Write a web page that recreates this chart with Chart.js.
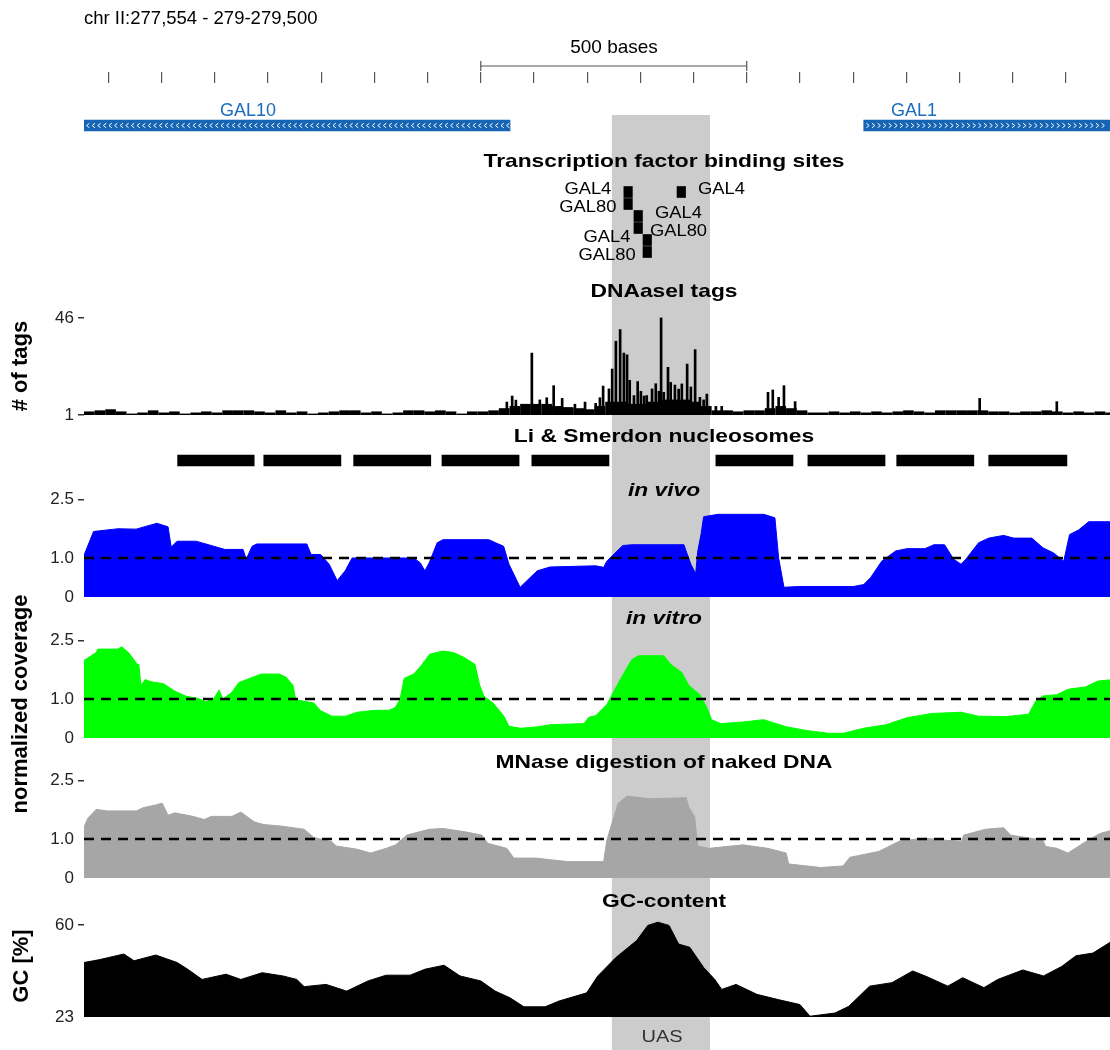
<!DOCTYPE html>
<html>
<head>
<meta charset="utf-8">
<script src="https://cdn.jsdelivr.net/npm/chart.js@4.4.1/dist/chart.umd.min.js"></script>
<style>
  body { margin: 0; background: #fff; font-family: "Liberation Sans", Arial, Helvetica, sans-serif; }
  #page { position: relative; width: 1110px; height: 1050px; overflow: hidden; background: #fff; }
  #page canvas { position: absolute; left: 0; }
  #text { position: absolute; left: 0; top: 0; width: 1110px; height: 1050px; z-index: 5; pointer-events: none; }
  .lbl { position: absolute; white-space: nowrap; line-height: 1; transform: translate(-50%, -50%); color: #000; }
  .ttl { font-weight: bold; font-size: 19px; transform: translate(-50%, -50%) scaleX(1.2); }
  .ax { font-weight: bold; font-size: 22px; transform: translate(-50%, -50%) rotate(-90deg); }
</style>
</head>
<body>
<div id="page">
  <div id="text">
    <div class="lbl" style="left:84px;top:18px;font-size:18.5px;transform:translate(0,-50%)">chr II:277,554 - 279-279,500</div>
    <div class="lbl" style="left:614px;top:46px;font-size:19px">500 bases</div>
    <div class="lbl" style="left:248px;top:110px;font-size:18px;color:#1a6cbf">GAL10</div>
    <div class="lbl" style="left:914px;top:110px;font-size:18px;color:#1a6cbf">GAL1</div>
    <div class="lbl ttl" style="left:664px;top:160px">Transcription factor binding sites</div>
    <div class="lbl ttl" style="left:664px;top:290px">DNAaseI tags</div>
    <div class="lbl ttl" style="left:664px;top:435px">Li &amp; Smerdon nucleosomes</div>
    <div class="lbl ttl" style="left:664px;top:489px;font-style:italic">in vivo</div>
    <div class="lbl ttl" style="left:664px;top:617px;font-style:italic">in vitro</div>
    <div class="lbl ttl" style="left:664px;top:761px">MNase digestion of naked DNA</div>
    <div class="lbl ttl" style="left:664px;top:900px">GC-content</div>
    <div class="lbl" style="left:662px;top:1037px;font-size:16px;color:#333;transform:translate(-50%,-50%) scaleX(1.25)">UAS</div>
    <div class="lbl ax" style="left:20px;top:366px"># of tags</div>
    <div class="lbl ax" style="left:20px;top:704px">normalized coverage</div>
    <div class="lbl ax" style="left:21px;top:966px">GC [%]</div>
  </div>
</div>
<script>
// window: chr II 277,554 onwards, positions below are bases from that start
const chrStart = 277554;
const viewLen = 1929;

const rulerTicks = [277600, 277700, 277800, 277900, 278000, 278100, 278200, 278300, 278400, 278500,
                    278600, 278700, 278800, 278900, 279000, 279100, 279200, 279300, 279400];
const scaleBar = [278300, 278800];

const geneNames = ['GAL10', 'GAL1'];
const geneFrom = [0, 1466];
const geneTo = [801, 1929];
const geneStrand = ['-', '+'];

const uasFrom = 992;
const uasTo = 1177;

const tfNames = ['GAL4', 'GAL80', 'GAL4', 'GAL80', 'GAL4', 'GAL80', 'GAL4'];
const tfFrom = [1015, 1015, 1034, 1034, 1051, 1051, 1115];
const tfTo   = [1031, 1031, 1050, 1050, 1067, 1067, 1131];
const tfRow  = [0, 1, 2, 3, 4, 5, 0];
const tfSide = ['left', 'left', 'right', 'right', 'left', 'left', 'right'];

// DNaseI: background tag counts in 20 bp bins + the tall single spikes
const dnaseBin = 20;
const dnaseBg = [
  2.5, 3, 3.5, 2.5, 1.5, 2, 3, 2, 2.5, 1.5,
  2, 2.5, 2, 3, 3, 3, 2.5, 2, 3, 2,
  2.5, 1.5, 2, 2.5, 3, 3, 2, 2.5, 1.5, 2,
  3, 3, 2.5, 3, 2.5, 1.5, 2.5, 2.5, 3, 4,
  5, 6, 6, 6, 5, 4.5, 4, 3.5, 5, 7,
  7, 6, 6, 7, 8, 8, 8, 7, 5, 3,
  3, 2.5, 3, 3, 4, 5, 4, 3, 2, 2,
  2.5, 2, 2.5, 2, 2.5, 2, 2.5, 3, 2.5, 2,
  3, 3, 3, 3, 3, 2.5, 2.5, 2, 2.5, 2.5,
  3, 2.5, 2, 2.5, 2, 2.5, 2
];
const dnasePeakPos = [795, 805, 812, 842, 883, 899, 962, 976, 987, 993,
  1000, 1008, 1015, 1021, 1026, 1034, 1041, 1053, 1068, 1075,
  1085, 1090, 1098, 1103, 1111, 1124, 1134, 1149, 1158, 1171,
  1286, 1295, 1306, 1316, 1337, 1684, 1829,
  970, 1047, 1058, 1081, 1118, 1141, 1165, 857, 870, 923, 942, 1188, 1199];
const dnasePeakVal = [7.0, 9.8, 7.9, 29.7, 14.6, 8.7, 6.4, 14.4, 13.1, 22.3,
  35.2, 40.6, 29.7, 28.9, 17.1, 10.0, 16.5, 9.8, 13.1, 15.5,
  46, 11.5, 23.1, 16.1, 14.9, 15.4, 24.6, 31.3, 9.2, 10.7,
  11.5, 12.6, 9.2, 14.6, 7.2, 8.7, 7.2,
  9, 12, 10, 12, 13, 14, 8, 8, 9, 6, 7, 5, 5];

const nucFrom = [176, 338, 507, 673, 842, 1188, 1361, 1528, 1701];
const nucTo   = [320, 483, 652, 818, 987, 1333, 1506, 1673, 1848];

const vivoPos = [0, 18, 64, 98, 137, 158, 164, 175, 211, 265, 299, 305, 316, 325, 419, 427, 445, 461, 476, 491,
  504, 620, 632, 641, 649, 664, 675, 761, 774, 789, 799, 820, 836, 852, 876, 962, 977, 983, 1013, 1030,
  1128, 1132, 1141, 1150, 1154, 1160, 1165, 1192, 1278, 1299, 1306, 1316, 1346, 1447, 1466, 1479, 1500, 1526, 1547, 1581,
  1598, 1618, 1635, 1649, 1658, 1682, 1701, 1729, 1748, 1782, 1803, 1823, 1842, 1853, 1870, 1889, 1929];
const vivoVal = [1.07, 1.68, 1.75, 1.74, 1.89, 1.80, 1.28, 1.43, 1.43, 1.22, 1.22, 0.97, 1.30, 1.36, 1.36, 1.09, 1.09, 0.84, 0.42, 0.67,
  1.0, 1.0, 0.88, 0.67, 0.88, 1.39, 1.47, 1.47, 1.39, 1.30, 0.84, 0.25, 0.46, 0.67, 0.77, 0.80, 0.76, 0.92, 1.32, 1.34,
  1.34, 1.18, 0.84, 0.60, 1.18, 1.60, 2.06, 2.12, 2.12, 2.03, 1.0, 0.25, 0.27, 0.27, 0.32, 0.50, 0.92, 1.18, 1.24, 1.24,
  1.34, 1.34, 0.97, 0.84, 0.97, 1.39, 1.51, 1.58, 1.51, 1.51, 1.26, 1.13, 0.92, 1.60, 1.72, 1.93, 1.93];

const vitroPos = [0, 7, 23, 26, 64, 71, 85, 100, 103, 107, 115, 124, 150, 171, 192, 214, 229, 244, 254, 261,
  278, 291, 312, 333, 367, 380, 393, 398, 414, 432, 445, 466, 492, 513, 547, 573, 585, 594, 602, 620,
  633, 650, 675, 695, 714, 735, 744, 752, 769, 789, 799, 821, 855, 876, 940, 949, 962, 983, 996, 1009,
  1030, 1043, 1090, 1103, 1124, 1137, 1158, 1171, 1180, 1197, 1239, 1278, 1320, 1359, 1400, 1427, 1466, 1508, 1547, 1594,
  1649, 1682, 1735, 1776, 1789, 1803, 1829, 1850, 1883, 1906, 1929];
const vitroVal = [1.99, 2.05, 2.19, 2.28, 2.28, 2.34, 2.17, 1.89, 1.89, 1.35, 1.50, 1.45, 1.39, 1.20, 1.07, 1.02, 0.93, 1.01, 1.23, 1.0,
  1.17, 1.42, 1.53, 1.64, 1.64, 1.56, 1.35, 0.98, 0.94, 0.90, 0.70, 0.56, 0.56, 0.66, 0.71, 0.71, 0.78, 0.98, 1.53, 1.64,
  1.84, 2.15, 2.23, 2.19, 2.07, 1.89, 1.35, 1.07, 0.90, 0.57, 0.30, 0.25, 0.29, 0.34, 0.37, 0.53, 0.57, 0.86, 1.19, 1.52,
  2.01, 2.11, 2.11, 1.89, 1.68, 1.35, 1.11, 0.78, 0.47, 0.37, 0.41, 0.47, 0.29, 0.19, 0.12, 0.12, 0.25, 0.34, 0.52, 0.63,
  0.66, 0.56, 0.55, 0.61, 0.94, 1.08, 1.11, 1.25, 1.31, 1.46, 1.49];

const mnasePos = [0, 7, 23, 43, 98, 111, 137, 147, 158, 171, 205, 226, 239, 278, 295, 320, 338, 372, 414, 432,
  466, 474, 513, 539, 568, 586, 607, 649, 675, 714, 748, 759, 795, 808, 850, 876, 910, 977, 983, 1004,
  1021, 1064, 1132, 1137, 1148, 1154, 1175, 1239, 1286, 1320, 1325, 1385, 1427, 1440, 1494, 1534, 1581, 1649, 1654, 1695,
  1729, 1742, 1803, 1808, 1829, 1850, 1883, 1910, 1929];
const mnaseVal = [1.30, 1.53, 1.76, 1.72, 1.72, 1.80, 1.88, 1.92, 1.61, 1.67, 1.58, 1.50, 1.58, 1.58, 1.69, 1.44, 1.37, 1.33, 1.25, 1.04,
  0.93, 0.82, 0.74, 0.64, 0.76, 0.85, 1.10, 1.25, 1.27, 1.19, 1.10, 0.89, 0.76, 0.51, 0.51, 0.47, 0.42, 0.42, 0.97, 1.91,
  2.10, 2.03, 2.06, 1.82, 1.57, 0.82, 0.76, 0.85, 0.76, 0.64, 0.36, 0.27, 0.31, 0.53, 0.68, 0.95, 1.02, 0.93, 1.10, 1.25,
  1.29, 1.10, 0.97, 0.81, 0.76, 0.64, 0.93, 1.14, 1.21];

const gcPos = [0, 28, 75, 94, 135, 175, 195, 222, 267, 295, 335, 374, 400, 414, 455, 494, 534, 568, 613, 641,
  677, 707, 746, 773, 801, 827, 867, 893, 945, 966, 1000, 1039, 1060, 1079, 1100, 1118, 1139, 1165, 1186, 1199,
  1226, 1265, 1305, 1346, 1365, 1412, 1438, 1477, 1519, 1558, 1585, 1624, 1652, 1692, 1718, 1765, 1804, 1838, 1865, 1897, 1929];
const gcVal = [44.9, 46.0, 48.3, 45.6, 47.9, 44.9, 42.2, 38.1, 40.2, 38.1, 40.8, 39.5, 38.1, 35.2, 36.1, 33.4, 37.5, 39.8, 39.8, 42.2,
  43.8, 39.5, 37.5, 33.4, 30.7, 27.1, 27.1, 29.4, 32.7, 39.5, 46.9, 53.7, 59.8, 61.1, 59.8, 52.3, 51.0, 42.9, 38.1, 34.1,
  36.1, 32.1, 30.0, 28.0, 23.3, 24.6, 27.3, 35.4, 36.8, 41.5, 39.2, 35.4, 38.8, 34.8, 38.1, 41.9, 39.5, 43.3, 47.6, 48.7, 53.0];

const covTicks = [0, 1, 2.5];
const covTickText = ['0', '1.0', '2.5'];
const gcTicks = [23, 60];
const dnaseTicks = [1, 46];

// ---------------------------------------------------------------
const FONT = '"Liberation Sans", Arial, Helvetica, sans-serif';
Chart.defaults.font.family = FONT;
Chart.defaults.animation = false;
Chart.defaults.plugins.legend.display = false;
Chart.defaults.plugins.tooltip.enabled = false;

const page = document.getElementById('page');
const textLayer = document.getElementById('text');
const PAD = 12;

function pts(pos, vals) {
  return pos.map((p, i) => ({x: chrStart + p, y: vals[i]}));
}

// every track gets its own canvas; the chart area is always x 84..1110
function track(areaTop, areaH, config) {
  const cv = document.createElement('canvas');
  cv.width = 1110;
  cv.height = areaH + 2 * PAD;
  cv.style.width = '1110px';
  cv.style.height = cv.height + 'px';
  cv.style.top = (areaTop - PAD) + 'px';
  page.insertBefore(cv, textLayer);
  config.options = config.options || {};
  config.options.responsive = false;
  config.options.devicePixelRatio = 1;
  config.options.layout = {autoPadding: false, padding: {top: PAD, bottom: PAD, left: 0, right: 0}};
  return new Chart(cv, config);
}

function xScale(extra) {
  return Object.assign({type: 'linear', min: chrStart, max: chrStart + viewLen, offset: false, display: false}, extra || {});
}

function hiddenY(min, max, reverse) {
  return {
    type: 'linear', min: min, max: max, reverse: !!reverse, offset: false,
    grid: {display: false}, border: {display: false}, ticks: {display: false},
    afterFit(s) { s.width = 84; s.paddingTop = 0; s.paddingBottom = 0; }
  };
}

function valueY(min, max, vals, text, marked) {
  return {
    type: 'linear', min: min, max: max, offset: false,
    border: {display: false},
    grid: {
      drawOnChartArea: false, drawTicks: true, tickLength: 6, lineWidth: 1.5,
      color: c => marked.includes(c.index) ? '#333' : 'rgba(0,0,0,0)'
    },
    ticks: {font: {size: 17}, color: '#222', padding: 4, callback: (v, i) => text[i]},
    afterBuildTicks(s) { s.ticks = vals.map(v => ({value: v})); },
    afterFit(s) { s.width = 84; s.paddingTop = 0; s.paddingBottom = 0; }
  };
}

// white strand chevrons inside the gene bars
const chevrons = {
  id: 'chevrons',
  afterDatasetsDraw(chart) {
    const ctx = chart.ctx, a = chart.chartArea;
    ctx.save();
    ctx.beginPath(); ctx.rect(a.left, a.top, a.width, a.height); ctx.clip();
    ctx.strokeStyle = '#fff'; ctx.lineWidth = 1;
    chart.getDatasetMeta(0).data.forEach((bar, i) => {
      const p = bar.getProps(['x', 'base', 'y']);
      const l = Math.min(p.x, p.base), r = Math.max(p.x, p.base);
      const d = geneStrand[i] === '+' ? 1 : -1;
      for (let cx = l + 4; cx < r - 2; cx += 5.6) {
        ctx.beginPath();
        ctx.moveTo(cx - d * 1.4, p.y - 2.3);
        ctx.lineTo(cx + d * 1.4, p.y);
        ctx.lineTo(cx - d * 1.4, p.y + 2.3);
        ctx.stroke();
      }
    });
    ctx.restore();
  }
};

// TF names beside the binding-site boxes
const tfLabels = {
  id: 'tfLabels',
  afterDatasetsDraw(chart) {
    const ctx = chart.ctx;
    ctx.save();
    ctx.font = '17px ' + FONT;
    ctx.fillStyle = '#000';
    ctx.textAlign = 'center';
    ctx.textBaseline = 'middle';
    chart.getDatasetMeta(0).data.forEach((bar, i) => {
      const p = bar.getProps(['x', 'base', 'y']);
      const l = Math.min(p.x, p.base), r = Math.max(p.x, p.base);
      const cx = tfSide[i] === 'left' ? l - 36 : r + 36;
      const cy = p.y + (tfNames[i] === 'GAL4' ? -3 : 3);
      ctx.save();
      ctx.translate(cx, cy);
      ctx.scale(1.08, 1);
      ctx.fillText(tfNames[i], 0, 0);
      ctx.restore();
    });
    ctx.restore();
  }
};

// UAS grey band, behind everything
track(115, 935, {
  type: 'line',
  data: {datasets: [{
    data: [{x: chrStart + uasFrom, y: 1}, {x: chrStart + uasTo, y: 1}],
    borderColor: 'rgba(0,0,0,0)', borderWidth: 0, pointRadius: 0,
    fill: 'origin', backgroundColor: '#cccccc'
  }]},
  options: {scales: {x: xScale(), y: hiddenY(0, 1)}}
});

// ruler: 100 bp ticks and 500 bp scale bar
track(56, 28, {
  type: 'line',
  data: {datasets: [{
    data: scaleBar.map(v => ({x: v, y: 0})),
    borderColor: '#555', borderWidth: 1.2, fill: false,
    pointStyle: 'line', pointRotation: 90, pointRadius: 5,
    pointBorderColor: '#555', pointBorderWidth: 1.2
  }]},
  options: {scales: {
    x: xScale({
      display: true, border: {display: false}, ticks: {display: false},
      grid: {drawOnChartArea: false, drawTicks: true, tickLength: 11, color: '#555', lineWidth: 1.2},
      afterBuildTicks(s) { s.ticks = rulerTicks.map(v => ({value: v})); },
      afterFit(s) { s.height = 12; }
    }),
    y: hiddenY(-0.6, 1)
  }}
});

// genes
track(115, 21, {
  type: 'bar',
  data: {datasets: [{
    data: geneFrom.map((f, i) => ({x: [chrStart + f, chrStart + geneTo[i]], y: 0})),
    backgroundColor: '#1565b4', barThickness: 11, grouped: false
  }]},
  options: {indexAxis: 'y', scales: {x: xScale(), y: hiddenY(-1, 1)}},
  plugins: [chevrons]
});

// transcription factor binding sites
track(186, 72, {
  type: 'bar',
  data: {datasets: [{
    data: tfFrom.map((f, i) => ({x: [chrStart + f, chrStart + tfTo[i]], y: tfRow[i]})),
    backgroundColor: '#000', barThickness: 11, grouped: false
  }]},
  options: {indexAxis: 'y', scales: {x: xScale(), y: hiddenY(-0.5, 5.5, true)}},
  plugins: [tfLabels]
});

// DNaseI tags
track(300, 115, {
  type: 'bar',
  data: {datasets: [
    {data: pts(dnasePeakPos, dnasePeakVal), backgroundColor: '#000', barThickness: 2, grouped: false},
    {data: dnaseBg.map((v, i) => ({x: chrStart + (i + 0.5) * dnaseBin, y: v})), backgroundColor: '#000', barThickness: 10, grouped: false}
  ]},
  options: {scales: {x: xScale(), y: valueY(1, 54.3, dnaseTicks, ['1', '46'], [0, 1])}}
});

// nucleosomes
track(450, 21, {
  type: 'bar',
  data: {datasets: [{
    data: nucFrom.map((f, i) => ({x: [chrStart + f, chrStart + nucTo[i]], y: 0})),
    backgroundColor: '#000', barThickness: 11, grouped: false
  }]},
  options: {indexAxis: 'y', scales: {x: xScale(), y: hiddenY(-1, 1)}}
});

// coverage tracks
const covH = 101;
const covMax = covH / 39;
function coverage(areaBottom, pos, vals, color) {
  track(areaBottom - covH, covH, {
    type: 'line',
    data: {datasets: [
      {data: [{x: chrStart, y: 1}, {x: chrStart + viewLen, y: 1}], borderColor: '#000', borderWidth: 2.5,
       borderDash: [10, 7], pointRadius: 0, fill: false, order: 0},
      {data: pts(pos, vals), borderColor: color, backgroundColor: color, borderWidth: 1,
       pointRadius: 0, fill: 'origin', order: 1}
    ]},
    options: {scales: {x: xScale(), y: valueY(0, covMax, covTicks, covTickText, [2])}}
  });
}
coverage(597, vivoPos, vivoVal, '#0000ff');
coverage(738, vitroPos, vitroVal, '#00ff00');
coverage(878, mnasePos, mnaseVal, '#a6a6a6');

// GC content
track(910, 107, {
  type: 'line',
  data: {datasets: [{
    data: pts(gcPos, gcVal), borderColor: '#000', backgroundColor: '#000', borderWidth: 1,
    pointRadius: 0, fill: 'origin'
  }]},
  options: {scales: {x: xScale(), y: valueY(23, 66, gcTicks, ['23', '60'], [1])}}
});
</script>
</body>
</html>
